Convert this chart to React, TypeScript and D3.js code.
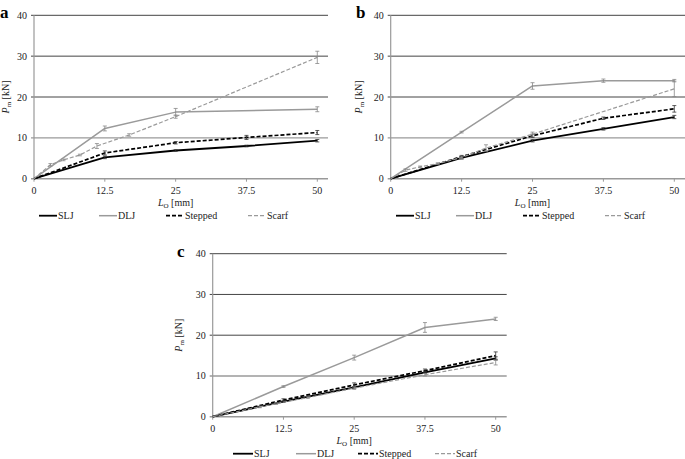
import React from "react";
import * as d3 from "d3";

// ---------- data ----------
const lengths = [0, 12.5, 25, 37.5, 50];
const xTicks = [0, 12.5, 25, 37.5, 50];
const yTicks = [0, 10, 20, 30, 40];
const seriesNames = ["SLJ", "DLJ", "Stepped", "Scarf"];

// panel a
const aSLJ = [0, 5.2, 6.9, 8.0, 9.3];
const aSLJErr = [0, 0.3, 0.2, 0.2, 0.3];
const aDLJx = [0, 12.5, 25, 50];
const aDLJ = [0, 12.3, 16.3, 17.0];
const aDLJErr = [0, 0.6, 0.9, 0.6];
const aStepped = [0, 6.3, 8.8, 10.1, 11.3];
const aSteppedErr = [0, 0.5, 0.3, 0.5, 0.5];
const aScarfX = [0, 2.9, 5.2, 8.1, 11.1, 16.8, 25, 50];
const aScarf = [0, 3.4, 4.6, 5.8, 8.0, 10.7, 15.2, 29.7];
const aScarfErr = [0, 0.3, 0.2, 0.2, 0.6, 0.3, 0.4, 1.5];

// panel b
const bSLJ = [0, 5.1, 9.3, 12.2, 15.1];
const bSLJErr = [0, 0.3, 0.3, 0.3, 0.4];
const bDLJ = [0, 11.4, 22.7, 24.0, 24.0];
const bDLJErr = [0, 0.2, 0.8, 0.4, 0.3];
const bStepped = [0, 5.4, 10.5, 14.8, 17.1];
const bSteppedErr = [0, 0.3, 0.4, 0.3, 0.8];
const bScarfX = [0, 2.6, 5.2, 8.3, 12.5, 16.8, 25, 50];
const bScarf = [0, 2.1, 2.9, 3.7, 5.2, 7.5, 10.9, 22.0];
const bScarfErr = [0, 0.3, 0.2, 0.2, 0.3, 0.8, 0.5, 1.9];

// panel c
const cSLJ = [0, 3.7, 7.2, 10.9, 14.3];
const cSLJErr = [0, 0.2, 0.2, 0.3, 0.4];
const cDLJ = [0, 7.4, 14.5, 21.9, 24.0];
const cDLJErr = [0, 0.2, 0.6, 1.2, 0.4];
const cStepped = [0, 4.1, 7.8, 11.3, 15.0];
const cSteppedErr = [0, 0.3, 0.5, 0.4, 0.9];
const cScarfX = [0, 8.3, 11.2, 16.8, 25, 37.5, 50];
const cScarf = [0, 2.4, 3.2, 4.7, 7.0, 10.3, 13.3];
const cScarfErr = [0, 0.2, 0.2, 0.2, 0.3, 0.3, 0.6];

// ---------- styles ----------
const FONT = "Liberation Serif, Times New Roman, Tinos, Times, serif";
const textStyle = { fontFamily: FONT };
const styles = [
  { color: "#000", width: 1.8, dash: "" },
  { color: "#9a9a9a", width: 1.5, dash: "" },
  { color: "#000", width: 1.7, dash: "4,2" },
  { color: "#9a9a9a", width: 1.2, dash: "4,2" },
];

type Series = { xs: number[]; ys: number[]; err: number[] };

type PanelCfg = {
  label: string;
  x0: number; x1: number; y0: number; y1: number;
  gridRight: number;
  labelPos: [number, number];
  yTitleX: number;
  legendX: number[];
  legendLen: number;
  series: Series[];
};

const panels: PanelCfg[] = [
  {
    label: "a", x0: 34, x1: 317.3, y0: 178.7, y1: 15.3, gridRight: 328,
    labelPos: [0, 18], yTitleX: 5,
    legendX: [39, 99, 166, 248], legendLen: 18,
    series: [
      { xs: lengths, ys: aSLJ, err: aSLJErr },
      { xs: aDLJx, ys: aDLJ, err: aDLJErr },
      { xs: lengths, ys: aStepped, err: aSteppedErr },
      { xs: aScarfX, ys: aScarf, err: aScarfErr },
    ],
  },
  {
    label: "b", x0: 390.7, x1: 674.3, y0: 178.7, y1: 15.3, gridRight: 700,
    labelPos: [356, 18], yTitleX: 358,
    legendX: [396, 456, 523, 605], legendLen: 18,
    series: [
      { xs: lengths, ys: bSLJ, err: bSLJErr },
      { xs: lengths, ys: bDLJ, err: bDLJErr },
      { xs: lengths, ys: bStepped, err: bSteppedErr },
      { xs: bScarfX, ys: bScarf, err: bScarfErr },
    ],
  },
  {
    label: "c", x0: 212.7, x1: 495.7, y0: 416.7, y1: 253.7, gridRight: 506.7,
    labelPos: [177, 257], yTitleX: 178,
    legendX: [233, 296, 358, 435], legendLen: 20,
    series: [
      { xs: lengths, ys: cSLJ, err: cSLJErr },
      { xs: lengths, ys: cDLJ, err: cDLJErr },
      { xs: lengths, ys: cStepped, err: cSteppedErr },
      { xs: cScarfX, ys: cScarf, err: cScarfErr },
    ],
  },
];

function Panel({ p }: { p: PanelCfg }) {
  const x = d3.scaleLinear().domain([0, 50]).range([p.x0, p.x1]);
  const y = d3.scaleLinear().domain([0, 40]).range([p.y0, p.y1]);
  const line = d3.line<[number, number]>().x((d) => x(d[0])).y((d) => y(d[1]));
  const tickY = p.y0 + 15;
  const titleY = p.y0 + 27;
  const legendY = p.y0 + 37;
  return (
    <g>
      {/* gridlines */}
      {yTicks.filter((t) => t > 0).map((t) => (
        <line key={t} x1={p.x0 - 3} x2={p.gridRight} y1={y(t)} y2={y(t)}
          stroke={t === 10 ? "#9a9a9a" : "#444"} strokeWidth={t === 10 ? 1.4 : 1} />
      ))}
      {/* axes */}
      <line x1={p.x0} x2={p.x0} y1={y(0)} y2={y(40)} stroke="#999" strokeWidth={1.2} />
      <line x1={p.x0 - 3} x2={p.gridRight} y1={y(0)} y2={y(0)} stroke="#999" strokeWidth={1.4} />
      {xTicks.map((t) => (
        <line key={t} x1={x(t)} x2={x(t)} y1={y(0)} y2={y(0) + 3} stroke="#999" strokeWidth={1} />
      ))}
      {/* tick labels */}
      {xTicks.map((t) => (
        <text key={t} x={x(t)} y={tickY} textAnchor="middle" fontSize={10} style={textStyle} fill="#222">{t}</text>
      ))}
      {yTicks.map((t) => (
        <text key={t} x={p.x0 - 7} y={y(t) + 3.5} textAnchor="end" fontSize={10} style={textStyle} fill="#222">{t}</text>
      ))}
      {/* titles */}
      <text x={(p.x0 + p.x1) / 2} y={titleY} textAnchor="middle" fontSize={10} style={textStyle} fill="#222">
        <tspan fontStyle="italic">L</tspan>
        <tspan fontSize={7} dy={2}>O</tspan>
        <tspan dy={-2}> [mm]</tspan>
      </text>
      <text transform={`translate(${p.yTitleX + 3.5},${(p.y0 + p.y1) / 2}) rotate(-90)`} textAnchor="middle"
        fontSize={10} style={textStyle} fill="#222">
        <tspan fontStyle="italic">P</tspan>
        <tspan fontSize={7} dy={2}>m</tspan>
        <tspan dy={-2}> [kN]</tspan>
      </text>
      <text x={p.labelPos[0]} y={p.labelPos[1]} fontSize={17} fontWeight="bold" style={textStyle} fill="#000">{p.label}</text>
      {/* series */}
      {p.series.map((s, i) => {
        const st = styles[i];
        const pts: [number, number][] = s.xs.map((v, k) => [v, s.ys[k]]);
        return (
          <g key={i}>
            <path d={line(pts) || ""} fill="none" stroke={st.color} strokeWidth={st.width}
              strokeDasharray={st.dash} strokeLinejoin="round" />
            {pts.map((d, k) => s.err[k] > 0 ? (
              <g key={k} stroke={i % 2 === 1 ? "#888" : "#333"} strokeWidth={0.8}>
                <line x1={x(d[0])} x2={x(d[0])} y1={y(d[1] - s.err[k])} y2={y(d[1] + s.err[k])} />
                <line x1={x(d[0]) - 2} x2={x(d[0]) + 2} y1={y(d[1] - s.err[k])} y2={y(d[1] - s.err[k])} />
                <line x1={x(d[0]) - 2} x2={x(d[0]) + 2} y1={y(d[1] + s.err[k])} y2={y(d[1] + s.err[k])} />
              </g>
            ) : null)}
          </g>
        );
      })}
      {/* legend */}
      {seriesNames.map((n, i) => {
        const st = styles[i];
        const lx = p.legendX[i];
        return (
          <g key={n}>
            <line x1={lx} x2={lx + p.legendLen} y1={legendY} y2={legendY} stroke={st.color}
              strokeWidth={st.width} strokeDasharray={st.dash} />
            <text x={lx + p.legendLen + 1} y={legendY + 3.5} fontSize={10} style={textStyle} fill="#222">{n}</text>
          </g>
        );
      })}
    </g>
  );
}

export default function App() {
  return (
    <svg width={685} height={459} viewBox="0 0 685 459"
      style={{ position: "absolute", left: 0, top: 0, background: "#fff" }}>
      <rect x={0} y={0} width={685} height={459} fill="#fff" />
      {panels.map((p) => <Panel key={p.label} p={p} />)}
    </svg>
  );
}
